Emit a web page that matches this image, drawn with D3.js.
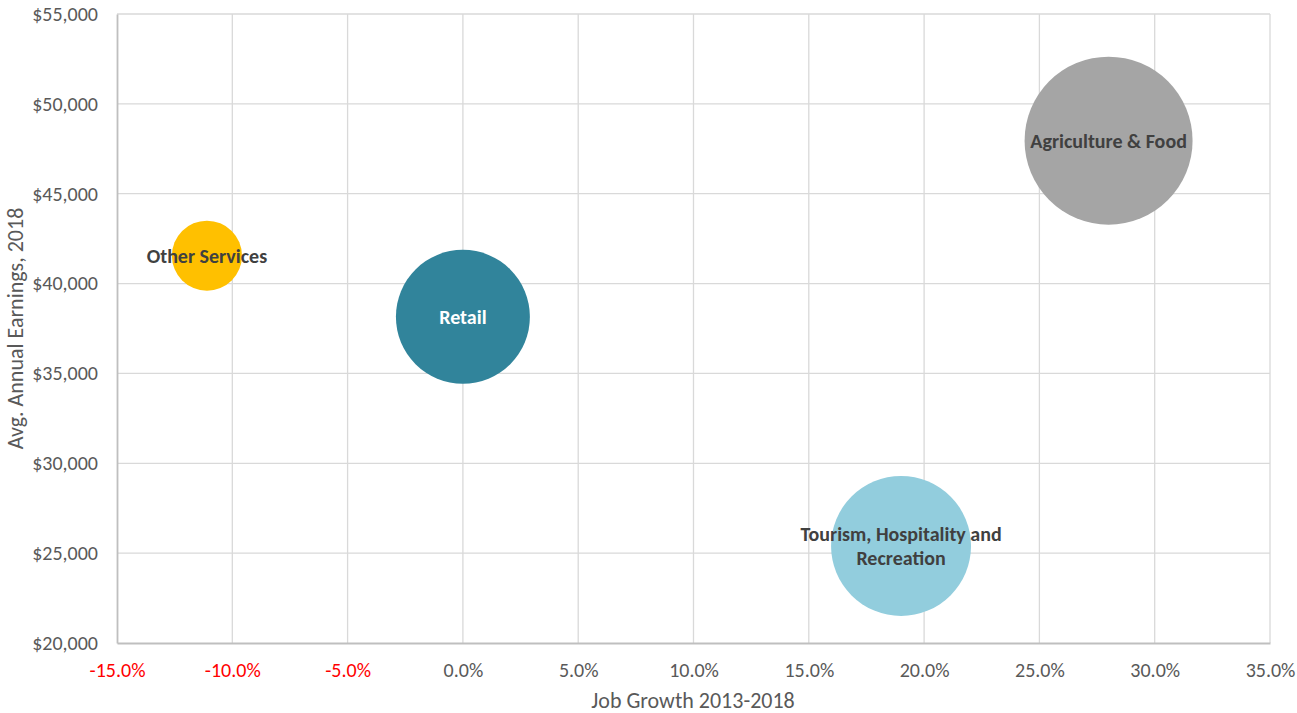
<!DOCTYPE html>
<html>
<head>
<meta charset="utf-8">
<script src="https://cdn.jsdelivr.net/npm/d3@7"></script>
<style>
  body { margin: 0; background: #fff; }
  svg text { font-family: Calibri, Carlito, Lato, "Open Sans", sans-serif; }
</style>
</head>
<body>
<svg id="chart" width="1297" height="713"></svg>
<script>
(function(){
    let w = 1297, h = 713;

    // data
    let sectors  = ["Other Services", "Retail", "Agriculture & Food", "Tourism, Hospitality and Recreation"];
    let growth   = [-11.1, 0.0, 28.0, 19.0];          // job growth 2013-2018, %
    let earnings = [41550, 38150, 47950, 25400];       // avg annual earnings 2018, $
    let sizes    = [1740, 6360, 10000, 6940];          // bubble size (relative employment)
    let colors   = ["#FFC000", "#31849B", "#A5A5A5", "#92CDDD"];
    let label_colors = ["#404040", "#ffffff", "#404040", "#404040"];
    let label_lines = [["Other Services"], ["Retail"], ["Agriculture & Food"], ["Tourism, Hospitality and", "Recreation"]];

    let x_ticks = [-15, -10, -5, 0, 5, 10, 15, 20, 25, 30, 35];
    let y_ticks = [20000, 25000, 30000, 35000, 40000, 45000, 50000, 55000];

    let m = {left: 117, right: 1270, top: 14, bottom: 643};

    let svg = d3.select("#chart");

    let x = d3.scaleLinear().domain([-15, 35]).range([m.left, m.right]);
    let y = d3.scaleLinear().domain([20000, 55000]).range([m.bottom, m.top]);
    let r = d3.scaleSqrt().domain([0, d3.max(sizes)]).range([0, 84]);

    // gridlines
    let grid = svg.append("g");
    grid.selectAll(".vg").data(x_ticks.slice(1)).join("line")
        .attr("x1", d => x(d)).attr("x2", d => x(d))
        .attr("y1", m.top).attr("y2", m.bottom)
        .attr("stroke", "#d9d9d9").attr("stroke-width", 1.3);
    grid.selectAll(".hg").data(y_ticks.slice(1)).join("line")
        .attr("x1", m.left).attr("x2", m.right)
        .attr("y1", d => y(d)).attr("y2", d => y(d))
        .attr("stroke", "#d9d9d9").attr("stroke-width", 1.3);

    // axes
    let xAxis = svg.append("g")
        .attr("transform", `translate(0,${m.bottom})`)
        .call(d3.axisBottom(x).tickValues(x_ticks).tickSize(0).tickPadding(20)
            .tickFormat(d => d.toFixed(1) + "%"));
    xAxis.select(".domain").attr("stroke", "#bfbfbf").attr("stroke-width", 1.8);
    xAxis.selectAll("text")
        .attr("font-size", 20)
        .attr("fill", d => d < 0 ? "#FF0000" : "#595959");

    let yAxis = svg.append("g")
        .attr("transform", `translate(${m.left},0)`)
        .call(d3.axisLeft(y).tickValues(y_ticks).tickSize(0).tickPadding(19)
            .tickFormat(d => "$" + d3.format(",")(d)));
    yAxis.select(".domain").attr("stroke", "#bfbfbf").attr("stroke-width", 1.8);
    yAxis.selectAll("text").attr("font-size", 20).attr("fill", "#595959");

    // axis titles
    svg.append("text")
        .attr("x", 693).attr("y", 708)
        .attr("text-anchor", "middle")
        .attr("font-size", 22).attr("fill", "#595959")
        .text("Job Growth 2013-2018");

    svg.append("text")
        .attr("transform", `translate(23,${(m.top + m.bottom) / 2}) rotate(-90)`)
        .attr("text-anchor", "middle")
        .attr("font-size", 22).attr("fill", "#595959")
        .text("Avg. Annual Earnings, 2018");

    // bubbles
    let idx = d3.range(sectors.length);
    svg.append("g").selectAll("circle").data(idx).join("circle")
        .attr("cx", i => x(growth[i]))
        .attr("cy", i => y(earnings[i]))
        .attr("r", i => r(sizes[i]))
        .attr("fill", i => colors[i]);

    // labels
    let labels = svg.append("g").selectAll("text").data(idx).join("text")
        .attr("x", i => x(growth[i]))
        .attr("y", i => y(earnings[i]) - (label_lines[i].length - 1) * 12)
        .attr("text-anchor", "middle")
        .attr("font-size", 20).attr("font-weight", "bold")
        .attr("fill", i => label_colors[i]);

    labels.each(function(i){
        let t = d3.select(this);
        label_lines[i].forEach((line, k) => {
            t.append("tspan")
                .attr("x", x(growth[i]))
                .attr("dy", k === 0 ? "0.35em" : 24)
                .text(line);
        });
    });
})();
</script>
</body>
</html>
